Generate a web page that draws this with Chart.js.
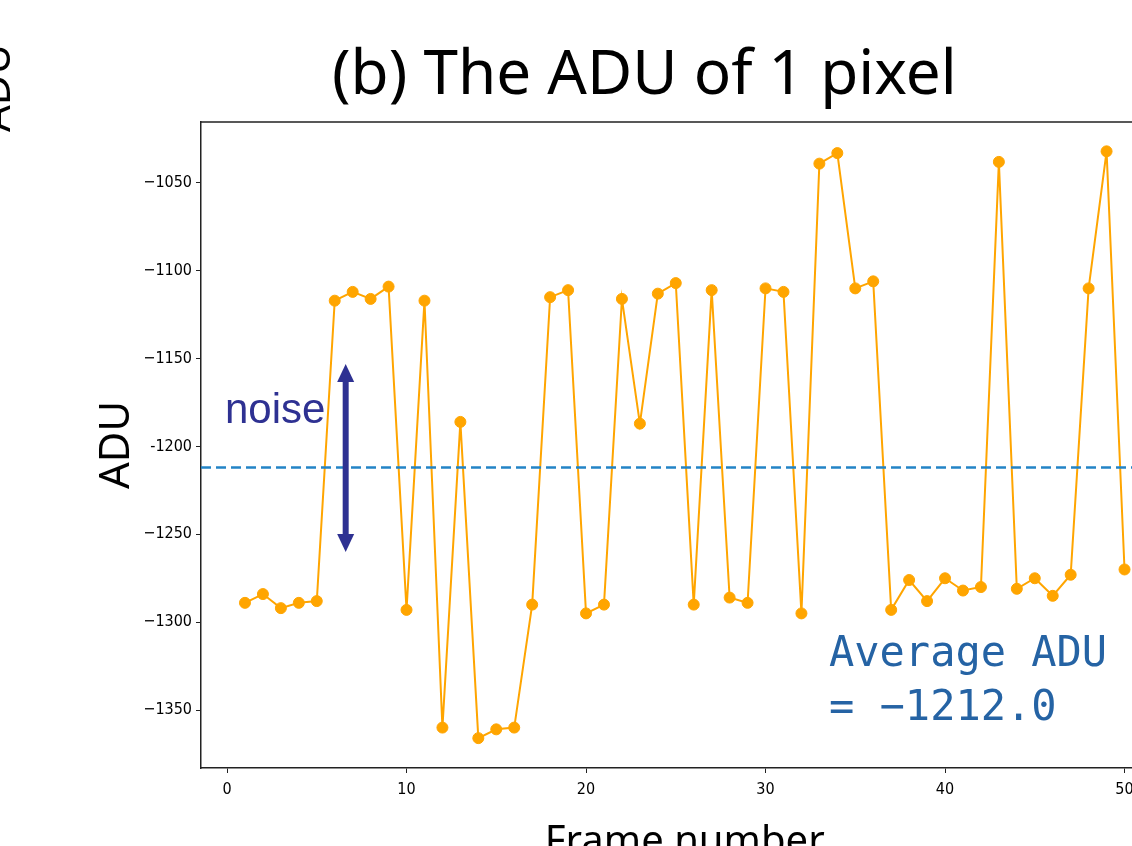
<!DOCTYPE html>
<html>
<head>
<meta charset="utf-8">
<script src="https://cdn.jsdelivr.net/npm/chart.js@4.4.0/dist/chart.umd.min.js"></script>
<style>
    html, body { margin: 0; padding: 0; background: #fff; overflow: hidden; }
    #wrap { position: relative; width: 1132px; height: 846px; overflow: hidden; background: #fff; }
    #chart { position: absolute; left: 0; top: 0; }
</style>
</head>
<body>
<div id="wrap"><canvas id="chart" width="1175" height="880"></canvas></div>
<script>
var frames = [1, 2, 3, 4, 5, 6, 7, 8, 9, 10,
    11, 12, 13, 14, 15, 16, 17, 18, 19, 20,
    21, 22, 23, 24, 25, 26, 27, 28, 29, 30,
    31, 32, 33, 34, 35, 36, 37, 38, 39, 40,
    41, 42, 43, 44, 45, 46, 47, 48, 49, 50];
var aduValues = [-1289, -1284, -1292, -1289, -1288, -1117, -1112, -1116, -1109, -1293,
    -1117, -1360, -1186, -1366, -1361, -1360, -1290, -1115, -1111, -1295,
    -1290, -1116, -1187, -1113, -1107, -1290, -1111, -1286, -1289, -1110,
    -1112, -1295, -1039, -1033, -1110, -1106, -1293, -1276, -1288, -1275,
    -1282, -1280, -1038, -1281, -1275, -1285, -1273, -1110, -1032, -1270];
var averageAdu = -1212.0;
var xTicks = [0, 10, 20, 30, 40, 50];
var yTicks = [-1350, -1300, -1250, -1200, -1150, -1100, -1050];
var xRange = [-1.45, 52.45];
var yRange = [-1383, -1015.3];
var noiseArrow = { x: 6.61, from: -1153, to: -1260 };

(function () {
    var points = [];
    for (var i = 0; i < frames.length; i++) {
        points.push({ x: frames[i], y: aduValues[i] });
    }

    var tickFont = { family: "'DejaVu Sans Condensed', 'DejaVu Sans'", size: 16 };

    // text and spine bits that chart.js has no option for
    var extras = {
        id: 'extras',
        afterDatasetsDraw: function (chart) {
            var ctx = chart.ctx;
            var a = chart.chartArea;
            var xs = chart.scales.x, ys = chart.scales.y;

            ctx.save();
            ctx.strokeStyle = '#222';
            ctx.lineWidth = 1.5;
            ctx.beginPath();
            ctx.moveTo(a.left, a.top);
            ctx.lineTo(a.right, a.top);
            ctx.lineTo(a.right, a.bottom);
            ctx.stroke();

            // double headed arrow
            var ax = xs.getPixelForValue(noiseArrow.x);
            var y1 = ys.getPixelForValue(noiseArrow.from);
            var y2 = ys.getPixelForValue(noiseArrow.to);
            ctx.fillStyle = '#2e3192';
            ctx.strokeStyle = '#2e3192';
            ctx.lineWidth = 6;
            ctx.beginPath();
            ctx.moveTo(ax, y1 + 14);
            ctx.lineTo(ax, y2 - 14);
            ctx.stroke();
            ctx.beginPath();
            ctx.moveTo(ax, y1);
            ctx.lineTo(ax - 8.5, y1 + 18);
            ctx.lineTo(ax + 8.5, y1 + 18);
            ctx.closePath();
            ctx.fill();
            ctx.beginPath();
            ctx.moveTo(ax, y2);
            ctx.lineTo(ax - 8.5, y2 - 18);
            ctx.lineTo(ax + 8.5, y2 - 18);
            ctx.closePath();
            ctx.fill();

            ctx.textAlign = 'left';
            ctx.textBaseline = 'alphabetic';
            ctx.font = "42px 'Liberation Sans'";
            ctx.fillText('noise', 225, 423);

            ctx.fillStyle = '#2563a4';
            ctx.font = "42px 'DejaVu Sans Mono'";
            ctx.fillText('Average ADU', 829, 666);
            ctx.fillText('= \u22121212.0', 829, 720);

            ctx.fillStyle = '#000';
            ctx.font = "62px 'Noto Sans'";
            ctx.fillText('(b) The ADU of 1 pixel', 332, 94);

            // clipped label of the neighbouring panel
            ctx.translate(10, 132);
            ctx.rotate(-Math.PI / 2);
            ctx.font = "42px 'Noto Sans'";
            ctx.fillText('ADU', 0, 0);
            ctx.restore();
        }
    };

    new Chart(document.getElementById('chart'), {
        type: 'line',
        data: {
            datasets: [{
                label: 'Average',
                data: [{ x: xRange[0], y: averageAdu }, { x: xRange[1], y: averageAdu }],
                borderColor: '#2384c6',
                borderWidth: 2.5,
                borderDash: [10, 5],
                pointRadius: 0,
                order: 0
            }, {
                label: 'ADU',
                data: points,
                borderColor: '#ffa500',
                backgroundColor: '#ffa500',
                borderWidth: 2,
                pointRadius: 5.5,
                pointBorderWidth: 1,
                pointBorderColor: '#ffa500',
                pointBackgroundColor: '#ffa500',
                order: 1
            }]
        },
        options: {
            responsive: false,
            animation: false,
            layout: { padding: { top: 122, right: 4, left: 0, bottom: 0 } },
            plugins: {
                legend: { display: false },
                tooltip: { enabled: false },
                title: { display: false }
            },
            scales: {
                x: {
                    type: 'linear',
                    min: xRange[0],
                    max: xRange[1],
                    afterBuildTicks: function (s) {
                        s.ticks = xTicks.map(function (v) { return { value: v }; });
                    },
                    afterFit: function (s) { s.height = 112; },
                    grid: { drawOnChartArea: false, drawTicks: true, tickLength: 5, color: '#222', tickWidth: 1 },
                    border: { display: true, color: '#222', width: 1.5 },
                    ticks: { color: '#000', font: tickFont, padding: 7, maxRotation: 0 },
                    title: {
                        display: true,
                        text: 'Frame number',
                        color: '#000',
                        font: { family: "'Noto Sans'", size: 40 },
                        padding: { top: 0, bottom: 13 }
                    }
                },
                y: {
                    type: 'linear',
                    min: yRange[0],
                    max: yRange[1],
                    afterBuildTicks: function (s) {
                        s.ticks = yTicks.map(function (v) { return { value: v }; });
                    },
                    afterFit: function (s) { s.width = 201; },
                    grid: { drawOnChartArea: false, drawTicks: true, tickLength: 5, color: '#222', tickWidth: 1 },
                    border: { display: true, color: '#222', width: 1.5 },
                    ticks: {
                        color: '#000',
                        font: tickFont,
                        padding: 4,
                        callback: function (v) {
                            if (v === -1200) return '-1200';
                            return (v < 0 ? '\u2212' : '') + Math.abs(v);
                        }
                    },
                    title: {
                        display: true,
                        text: 'ADU',
                        color: '#000',
                        font: { family: "'Noto Sans'", size: 42 },
                        padding: { top: 92, bottom: 0 }
                    }
                }
            }
        },
        plugins: [extras]
    });
})();
</script>
</body>
</html>
